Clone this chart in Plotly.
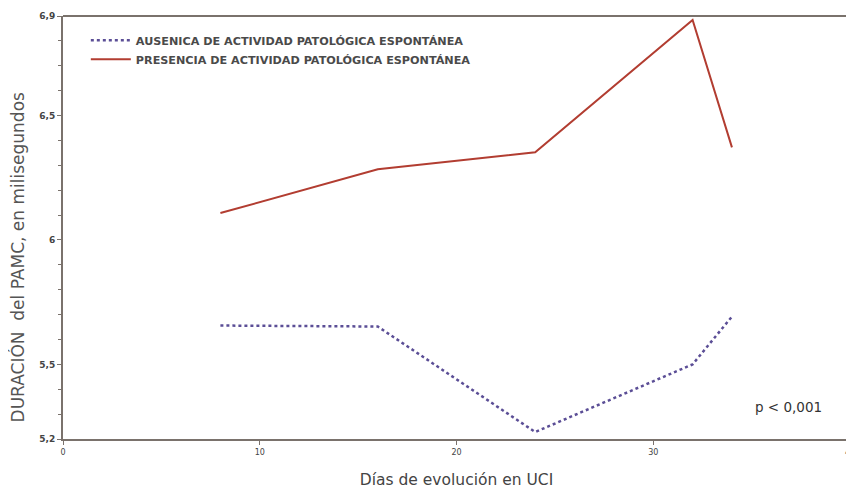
import plotly.graph_objects as go

dias = [8, 16, 24, 32, 34]
ausencia = [5.656, 5.652, 5.228, 5.50, 5.692]
presencia = [6.108, 6.284, 6.352, 6.884, 6.372]

y_tickvals = [5.2, 5.5, 6.0, 6.5, 6.9]
y_ticktext = ["5,2", "5,5", "6", "6,5", "6,9"]
x_tickvals = [0, 10, 20, 30, 40]
x_ticktext = ["0", "10", "20", "30", "40"]

fig = go.Figure()
fig.add_trace(go.Scatter(
    x=dias, y=ausencia, mode="lines",
    name="<b>AUSENICA DE ACTIVIDAD PATOLÓGICA ESPONTÁNEA</b>",
    line=dict(color="#5b4e96", width=2.5, dash="dot"),
))
fig.add_trace(go.Scatter(
    x=dias, y=presencia, mode="lines",
    name="<b>PRESENCIA DE ACTIVIDAD PATOLÓGICA ESPONTÁNEA</b>",
    line=dict(color="#b23d31", width=2),
))

axis_col = "#7a726c"
fig.update_layout(
    width=854, height=489,
    margin=dict(l=55, r=12, t=8, b=58),
    paper_bgcolor="white", plot_bgcolor="white",
    font=dict(family="DejaVu Sans", color="#444"),
    showlegend=True,
    legend=dict(
        x=0.029, y=0.977, xanchor="left", yanchor="top",
        bgcolor="rgba(0,0,0,0)", font=dict(size=11.2, color="#4a4a4a"),
        itemwidth=40, tracegroupgap=0,
    ),
    xaxis=dict(
        range=[0, 40], tickvals=x_tickvals, ticktext=x_ticktext,
        showgrid=False, zeroline=False, showline=True, automargin=False,
        linecolor=axis_col, linewidth=2,
        ticks="outside", ticklen=4, tickcolor=axis_col,
        tickfont=dict(size=8, color="#444"),
        title=dict(text="Días de evolución en UCI", font=dict(size=15.5, color="#444"), standoff=19),
    ),
    yaxis=dict(
        range=[5.2, 6.9], tickvals=y_tickvals, ticktext=y_ticktext,
        showgrid=False, zeroline=False, showline=True, automargin=False,
        linecolor=axis_col, linewidth=2,
        ticks="outside", ticklen=4, tickcolor=axis_col,
        tickfont=dict(size=9, color="#444", weight="bold"),
        minor=dict(dtick=0.1, tick0=5.2, ticks="outside", ticklen=3, tickcolor=axis_col, showgrid=False),
    ),
    shapes=[dict(type="line", xref="paper", yref="paper", x0=0, x1=1, y0=1, y1=1,
                 line=dict(color=axis_col, width=2))],
    annotations=[
        dict(x=0.922, y=0.075, xref="paper", yref="paper", text="p < 0,001",
             xanchor="center", yanchor="middle",
             showarrow=False, font=dict(size=13.5, color="#333")),
        dict(x=-0.058, y=0.43, xref="paper", yref="paper",
             text="DURACIÓN  del PAMC, en milisegundos", textangle=-90,
             xanchor="center", yanchor="middle", showarrow=False,
             font=dict(size=17, color="#555")),
    ],
)

fig.write_html("out.html")
